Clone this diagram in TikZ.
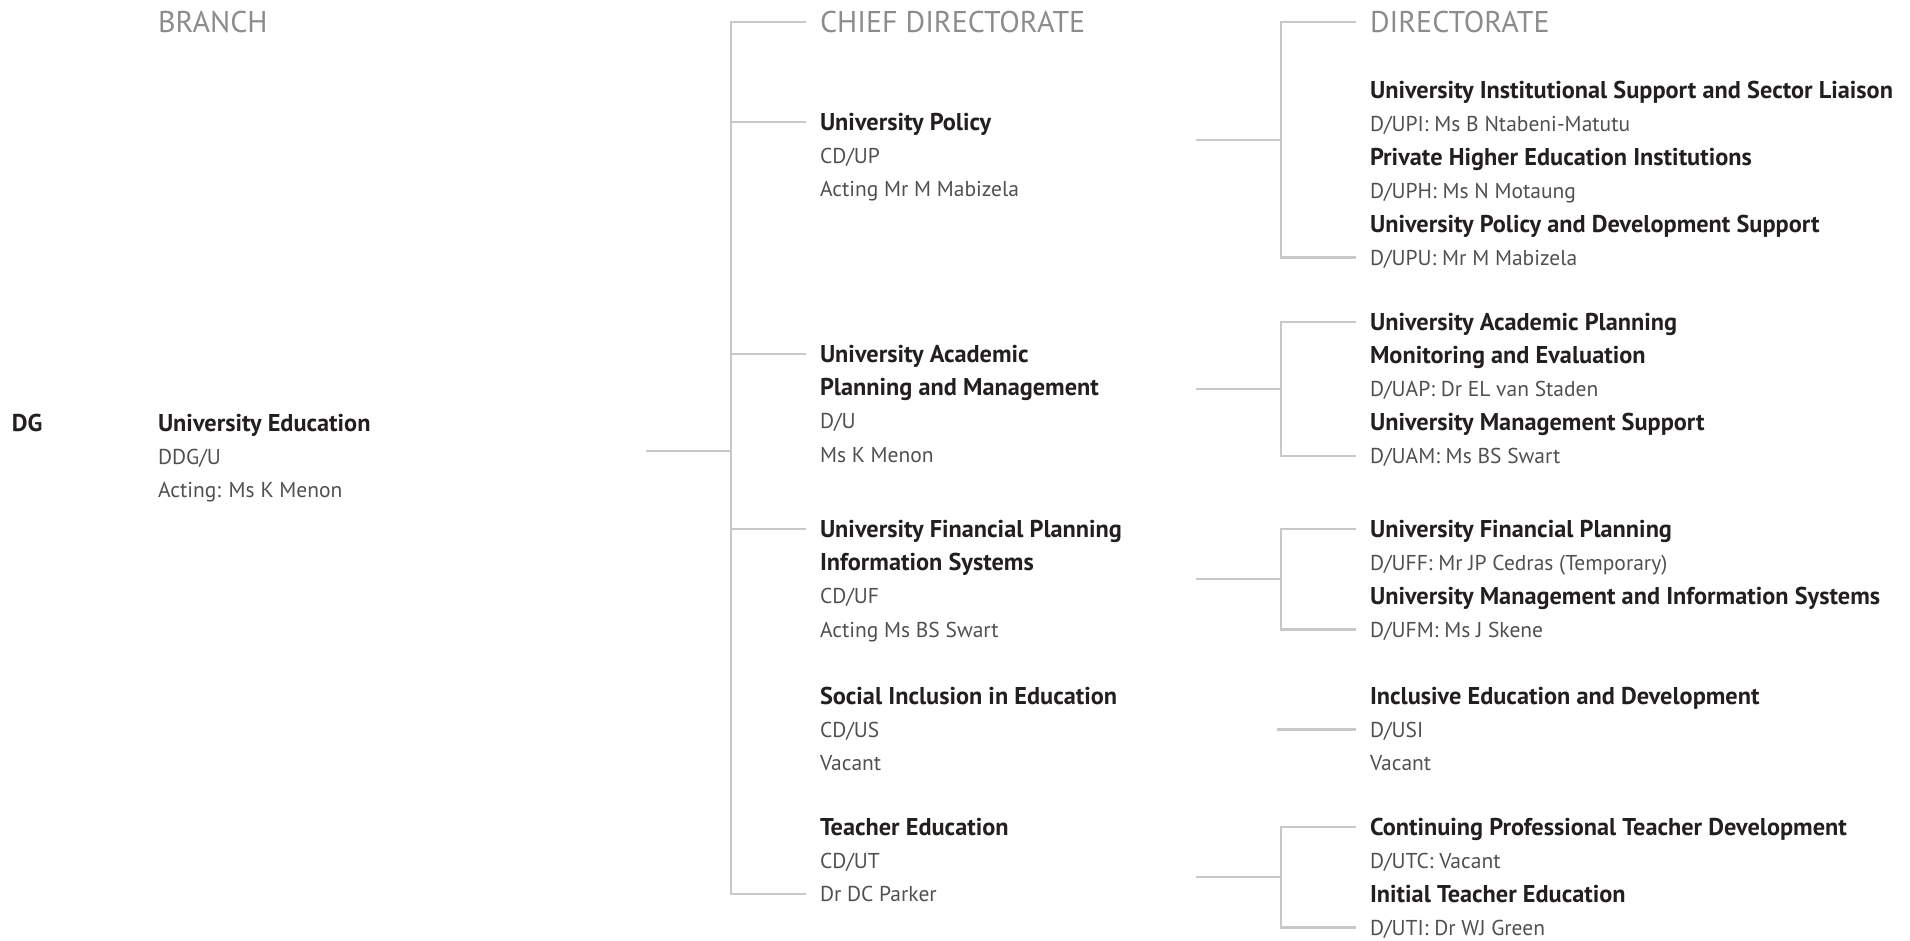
\documentclass[tikz,border=0pt]{standalone}
\usepackage{fontspec}
\setmainfont{PT Sans}
\usetikzlibrary{positioning,calc}

\definecolor{linegray}{HTML}{C8C8C8}
\definecolor{headgray}{HTML}{8C8C8C}
\definecolor{textgray}{HTML}{505050}
\definecolor{titleblack}{HTML}{231F20}

\tikzset{
  entry/.style={anchor=west, inner sep=0pt, outer xsep=14pt, text height=14.5pt, text depth=0pt},
  unit/.style={entry, font=\fontsize{24.3}{28}\selectfont\bfseries, text=titleblack, text height=16.5pt},
  post/.style={entry, font=\fontsize{21.5}{25}\selectfont, text=textgray, text height=15pt},
  colhead/.style={entry, font=\fontsize{30}{34}\selectfont, text=headgray, text height=21pt},
  link/.style={draw=linegray, line width=2.5pt},
}

\begin{document}
\begin{tikzpicture}[x=1pt, y=-1pt]
    \useasboundingbox (0,0) rectangle (1910,940);

    % the column heads
    \node[colhead] (bhead) at (144,22) {BRANCH};
    \node[colhead] (cdhead) at (806,22) {CHIEF DIRECTORATE};
    \node[colhead] (dhead) at (1356,22) {DIRECTORATE};

    % the branch
    \node[unit] (dg) at (-2,423) {DG};
    \node[unit] (ue1) at (144,423) {University Education};
    \node[post] (ue2) at (144,456.5) {DDG/U};
    \node[post] (ue3) at (144,490) {Acting: Ms K Menon};

    % the chief directorates
    \node[unit] (cd1a) at (806,122) {University Policy};
    \node[post] (cd1b) at (806,155.5) {CD/UP};
    \node[post] (cd1c) at (806,189) {Acting Mr M Mabizela};

    \node[unit] (cd2a) at (806,354) {University Academic};
    \node[unit] (cd2b) at (806,387.5) {Planning and Management};
    \node[post] (cd2c) at (806,421) {D/U};
    \node[post] (cd2d) at (806,454.5) {Ms K Menon};

    \node[unit] (cd3a) at (806,529) {University Financial Planning};
    \node[unit] (cd3b) at (806,562.5) {Information Systems};
    \node[post] (cd3c) at (806,596) {CD/UF};
    \node[post] (cd3d) at (806,629.5) {Acting Ms BS Swart};

    \node[unit] (cd4a) at (806,696) {Social Inclusion in Education};
    \node[post] (cd4b) at (806,729.5) {CD/US};
    \node[post] (cd4c) at (806,763) {Vacant};

    \node[unit] (cd5a) at (806,827) {Teacher Education};
    \node[post] (cd5b) at (806,860.5) {CD/UT};
    \node[post] (cd5c) at (806,894) {Dr DC Parker};

    % the directorates
    \node[unit] (d1a) at (1356,90) {University Institutional Support and Sector Liaison};
    \node[post] (d1b) at (1356,123.5) {D/UPI: Ms B Ntabeni-Matutu};
    \node[unit] (d1c) at (1356,157) {Private Higher Education Institutions};
    \node[post] (d1d) at (1356,190.5) {D/UPH: Ms N Motaung};
    \node[unit] (d1e) at (1356,224) {University Policy and Development Support};
    \node[post] (d1f) at (1356,257.5) {D/UPU: Mr M Mabizela};

    \node[unit] (d2a) at (1356,322) {University Academic Planning};
    \node[unit] (d2b) at (1356,355.5) {Monitoring and Evaluation};
    \node[post] (d2c) at (1356,389) {D/UAP: Dr EL van Staden};
    \node[unit] (d2d) at (1356,422.5) {University Management Support};
    \node[post] (d2e) at (1356,456) {D/UAM: Ms BS Swart};

    \node[unit] (d3a) at (1356,529) {University Financial Planning};
    \node[post] (d3b) at (1356,562.5) {D/UFF: Mr JP Cedras (Temporary)};
    \node[unit] (d3c) at (1356,596) {University Management and Information Systems};
    \node[post] (d3d) at (1356,629.5) {D/UFM: Ms J Skene};

    \node[unit] (d4a) at (1356,696) {Inclusive Education and Development};
    \node[post] (d4b) at (1356,729.5) {D/USI};
    \node[post] (d4c) at (1356,763) {Vacant};

    \node[unit] (d5a) at (1356,827) {Continuing Professional Teacher Development};
    \node[post] (d5b) at (1356,860.5) {D/UTC: Vacant};
    \node[unit] (d5c) at (1356,894) {Initial Teacher Education};
    \node[post] (d5d) at (1356,927.5) {D/UTI: Dr WJ Green};

    % the points where the lines meet
    \coordinate (ueout) at (646,451);
    \coordinate (trunk) at (731,451);
    \coordinate (g1) at (1196,140);
    \coordinate (b1) at (1281,140);
    \coordinate (g2) at (1196,389);
    \coordinate (b2) at (1281,389);
    \coordinate (g3) at (1196,579);
    \coordinate (b3) at (1281,579);
    \coordinate (g4) at (1277,729.5);
    \coordinate (g5) at (1196,877);
    \coordinate (b5) at (1281,877);

    % branch to chief directorates
    \draw[link] (ueout) -- (trunk);
    \draw[link] (cdhead.west) -| (trunk) |- (cd5c.west);
    \foreach \n in {cd1a,cd2a,cd3a}
        \draw[link] (\n.west) -- (\n.west -| trunk);

    % the directorate brackets
    \draw[link] (g1) -- (b1);
    \draw[link] (dhead.west) -| (b1) |- (d1f.west);
    \draw[link] (g2) -- (b2);
    \draw[link] (d2a.west) -| (b2) |- (d2e.west);
    \draw[link] (g3) -- (b3);
    \draw[link] (d3a.west) -| (b3) |- (d3d.west);
    \draw[link] (g4) -- (d4b.west);
    \draw[link] (g5) -- (b5);
    \draw[link] (d5a.west) -| (b5) |- (d5d.west);

\end{tikzpicture}
\end{document}
